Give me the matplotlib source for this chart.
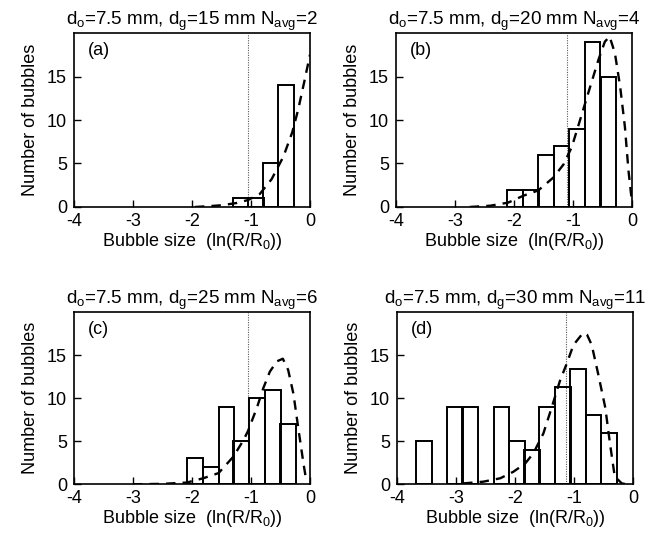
import numpy as np
import matplotlib
matplotlib.use("Agg")
import matplotlib.pyplot as plt

plt.rcParams["font.family"] = ["Liberation Sans", "DejaVu Sans"]
plt.rcParams["mathtext.fontset"] = "custom"
plt.rcParams["mathtext.rm"] = "Liberation Sans"
plt.rcParams["mathtext.it"] = "Liberation Sans:italic"
plt.rcParams["axes.unicode_minus"] = False

bin_width = 0.265

# panel (a)
a_left = [-1.31, -1.05, -0.80, -0.54]
a_count = [1, 1, 5, 14]
a_fit_x = [-1.95, -1.7, -1.5, -1.25, -1.05, -0.85, -0.65, -0.45, -0.3, -0.2, -0.1, 0.0]
a_fit_y = [0, 0.1, 0.2, 0.45, 0.8, 1.5, 3.2, 5.8, 8.6, 11.2, 14.3, 17.5]

# panel (b)
b_left = [-2.11, -1.84, -1.59, -1.33, -1.06, -0.80, -0.53]
b_count = [2, 2, 6, 7, 9, 19, 15]
b_fit_x = [-2.75, -2.4, -2.1, -1.84, -1.59, -1.33, -1.16, -1.02, -0.88, -0.71,
           -0.57, -0.46, -0.38, -0.29, -0.20, -0.12, -0.06, 0.0]
b_fit_y = [0, 0.15, 0.5, 1.3, 1.9, 3.4, 4.9, 6.9, 10.0, 13.8,
           16.9, 19.0, 19.6, 17.7, 13.8, 9.2, 4.2, 0.5]

# panel (c)
c_left = [-2.08, -1.81, -1.55, -1.30, -1.03, -0.76, -0.51]
c_count = [3, 2, 9, 5, 10, 11, 7]
c_fit_x = [-3.0, -2.5, -2.09, -1.81, -1.55, -1.30, -1.13, -1.05, -0.90, -0.79,
           -0.68, -0.56, -0.46, -0.37, -0.28, -0.20, -0.11, -0.06]
c_fit_y = [0, 0.05, 0.2, 0.7, 1.3, 3.2, 5.1, 6.2, 8.9, 11.2,
           13.1, 14.3, 14.6, 13.3, 10.5, 6.6, 2.4, 0.3]

# panel (d)
d_left = [-3.67, -3.16, -2.89, -2.36, -2.10, -1.84, -1.59, -1.32, -1.06, -0.80, -0.54]
d_count = [5, 9, 9, 9, 5, 4, 9, 11.3, 13.4, 8, 6]
d_fit_x = [-2.88, -2.54, -2.25, -2.03, -1.83, -1.69, -1.52, -1.38, -1.24, -1.12,
           -1.01, -0.87, -0.82, -0.78, -0.70, -0.59, -0.47, -0.39, -0.31, -0.19, -0.1]
d_fit_y = [0.1, 0.3, 0.7, 1.45, 2.4, 3.6, 5.9, 8.9, 12.0, 14.1,
           16.2, 17.4, 17.6, 17.4, 16.2, 12.8, 8.9, 4.7, 0.9, 0.1, 0.0]

titles = [r"d$\mathregular{_o}$=7.5 mm, d$\mathregular{_g}$=15 mm N$\mathregular{_{avg}}$=2",
          r"d$\mathregular{_o}$=7.5 mm, d$\mathregular{_g}$=20 mm N$\mathregular{_{avg}}$=4",
          r"d$\mathregular{_o}$=7.5 mm, d$\mathregular{_g}$=25 mm N$\mathregular{_{avg}}$=6",
          r"d$\mathregular{_o}$=7.5 mm, d$\mathregular{_g}$=30 mm N$\mathregular{_{avg}}$=11"]
letters = ["(a)", "(b)", "(c)", "(d)"]
cutoffs = [-1.05, -1.10, -1.05, -1.14]

lefts = [a_left, b_left, c_left, d_left]
counts = [a_count, b_count, c_count, d_count]
fits = [(a_fit_x, a_fit_y), (b_fit_x, b_fit_y), (c_fit_x, c_fit_y), (d_fit_x, d_fit_y)]

positions = [[0.1138, 0.6131, 0.3631, 0.3252],
             [0.6092, 0.6131, 0.3631, 0.3252],
             [0.1138, 0.0948, 0.3631, 0.3215],
             [0.6108, 0.0948, 0.3631, 0.3215]]

fig = plt.figure(figsize=(6.5, 5.35), dpi=100)

for i in range(4):
    ax = fig.add_axes(positions[i])
    ax.axvline(cutoffs[i], color="0.35", lw=0.8, ls=(0, (1, 1.2)), zorder=1)
    ax.bar(lefts[i], counts[i], width=bin_width, align="edge",
           fill=False, edgecolor="black", lw=1.4, zorder=2)
    ax.plot(fits[i][0], fits[i][1], "k--", lw=1.7, dashes=(4, 3), zorder=3)
    ax.set_xlim(-4, 0)
    ax.set_ylim(0, 20)
    ax.set_xticks([-4, -3, -2, -1, 0])
    ax.set_yticks([0, 5, 10, 15])
    ax.tick_params(direction="in", length=5, width=1, labelsize=13)
    ax.tick_params(axis="x", pad=4)
    ax.tick_params(axis="y", pad=5)
    for s in ax.spines.values():
        s.set_linewidth(1.2)
    ax.set_title(titles[i], fontsize=13.5, pad=3)
    ax.text(0.06, 0.95, letters[i], transform=ax.transAxes, fontsize=13,
            va="top", ha="left")
    ax.set_xlabel(r"Bubble size  (ln(R/R$\mathregular{_0}$))", fontsize=13, labelpad=1)
    ax.set_ylabel("Number of bubbles", fontsize=13, labelpad=6)

plt.savefig("out.png", dpi=100)
